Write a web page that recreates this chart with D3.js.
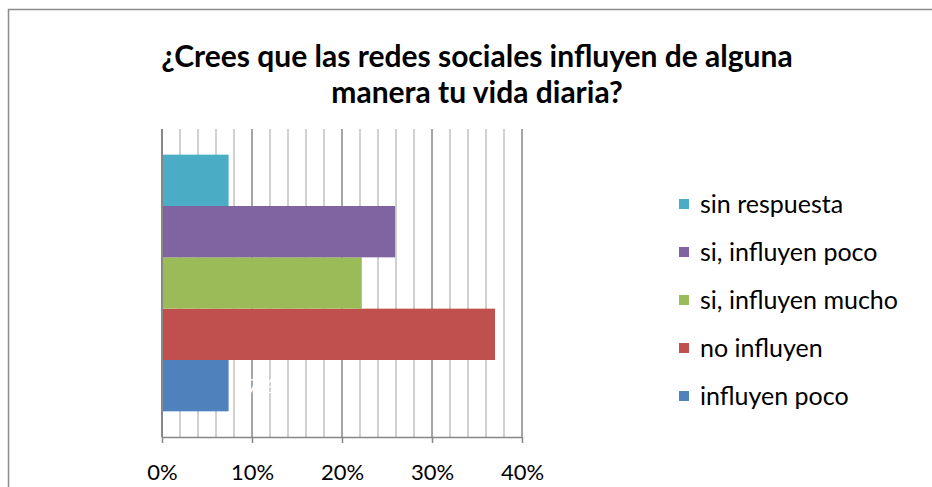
<!DOCTYPE html>
<html><head><meta charset="utf-8">
<script src="https://cdn.jsdelivr.net/npm/d3@7"></script>
<style>body{margin:0;background:#fff}svg{display:block}text{font-family:Lato,"Open Sans",sans-serif}</style>
</head><body><svg id="c" width="932" height="487"></svg>
<script>
const titleLines = ["¿Crees que las redes sociales influyen de alguna", "manera tu vida diaria?"];
const series = ["influyen poco", "no influyen", "si, influyen mucho", "si, influyen poco", "sin respuesta"];
const values = [0.074, 0.37, 0.222, 0.259, 0.074];
const colors = ["#4f81bd", "#c0504d", "#9bbb59", "#8064a2", "#4bacc6"];
const majorTicks = [0, 0.1, 0.2, 0.3, 0.4];
const minorTicks = d3.range(0, 0.4001, 0.02);

const svg = d3.select("#c");
svg.append("path").attr("d","M8.5,487 V9.5 H932").attr("fill","none").attr("stroke","#8c8c8c").attr("stroke-width",1.5);

const L=162, R=522, T=129, B=437;
const x = d3.scaleLinear().domain([0,0.4]).range([L,R]);
const y = d3.scaleBand().domain(series.slice().reverse()).range([T,B]).paddingInner(0).paddingOuter(0.5);

svg.append("g").selectAll("line").data(minorTicks).join("line")
  .attr("x1",d=>x(d)).attr("x2",d=>x(d)).attr("y1",T).attr("y2",B)
  .attr("stroke",d=>majorTicks.some(m=>Math.abs(m-d)<1e-6)?"#878787":"#c0c0c0").attr("stroke-width",1.5);

svg.append("g").selectAll("rect").data(series).join("rect")
  .attr("x",x(0)).attr("y",d=>y(d)).attr("height",y.bandwidth())
  .attr("width",(d,i)=>x(values[i])-x(0)).attr("fill",(d,i)=>colors[i]);

// white data label (barely visible, as in the reference)
svg.append("text").attr("x",x(values[0])+32).attr("y",y(series[0])+y.bandwidth()/2+7)
  .attr("fill","#fff").attr("font-size",20).attr("text-anchor","middle").text(d3.format(".0%")(values[0]));

const ax = svg.append("g").attr("transform",`translate(0,${B})`).call(d3.axisBottom(x).tickValues(majorTicks).tickFormat(d3.format(".0%")).tickSize(6).tickPadding(0));
ax.select(".domain").attr("stroke","#878787").attr("stroke-width",1.5).attr("d",`M${L},0.5H${R}`);
ax.selectAll(".tick line").attr("stroke","#878787").attr("stroke-width",1.5);
ax.selectAll(".tick text").attr("font-size",22).attr("fill","#000").attr("font-family","Lato,'Open Sans',sans-serif")
  .attr("y",43).attr("dy",null);
svg.append("line").attr("x1",L).attr("x2",L).attr("y1",T).attr("y2",B).attr("stroke","#878787").attr("stroke-width",2);

// title
svg.append("g").selectAll("text").data(titleLines).join("text")
  .attr("x",477).attr("y",(d,i)=>67+i*36).attr("text-anchor","middle")
  .attr("font-size",30).attr("font-weight","bold").attr("fill","#000").text(d=>d);

// legend
const lg = svg.append("g").selectAll("g").data(series.slice().reverse()).join("g")
  .attr("transform",(d,i)=>`translate(679,${204+i*48})`);
lg.append("rect").attr("x",0).attr("y",-5).attr("width",10).attr("height",10)
  .attr("fill",d=>colors[series.indexOf(d)]);
lg.append("text").attr("x",21).attr("y",9).attr("font-size",25).attr("fill","#000").text(d=>d);
</script></body></html>
